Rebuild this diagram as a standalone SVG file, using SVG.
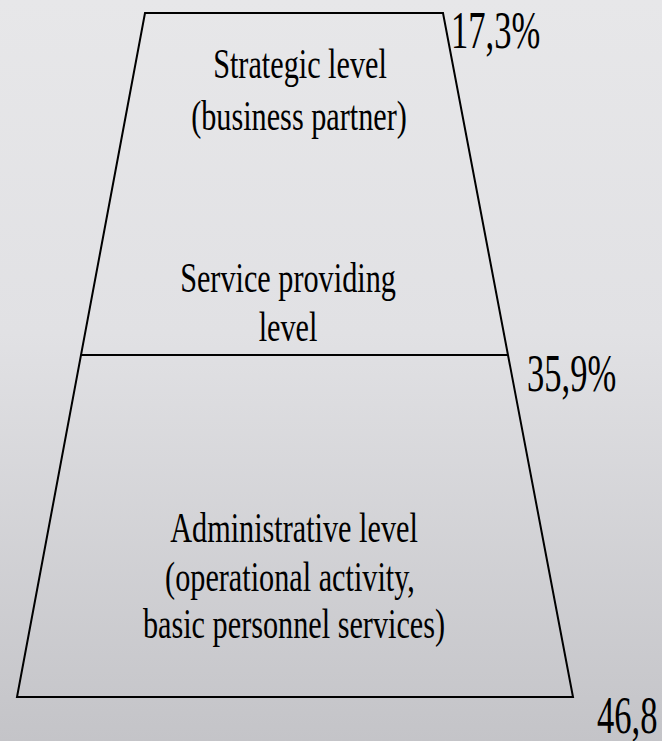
<svg xmlns="http://www.w3.org/2000/svg" width="662" height="741" viewBox="0 0 662 741">
  <defs>
    <linearGradient id="bg" x1="0" y1="0" x2="0" y2="1">
      <stop offset="0" stop-color="#e7e7e9"/>
      <stop offset="0.45" stop-color="#e1e1e4"/>
      <stop offset="1" stop-color="#c4c4c8"/>
    </linearGradient>
    <style>
      .edge { fill: none; stroke: #000; stroke-width: 2; stroke-linejoin: miter; }
      .lbl { font-family: "Liberation Serif", "Times New Roman", serif; font-size: 42px; fill: #000; text-anchor: middle; }
      .pct { font-family: "Liberation Serif", "Times New Roman", serif; font-size: 52px; fill: #000; }
    </style>
  </defs>

  <!-- backdrop -->
  <rect x="0" y="0" width="662" height="741" fill="url(#bg)"/>

  <!-- pyramid frustum outline and divider -->
  <g id="frustum">
    <polygon class="edge" points="145,13 443,13 573,697 17,697"/>
    <line class="edge" x1="81" y1="355" x2="508" y2="355"/>
  </g>

  <!-- upper tier: strategic level -->
  <g id="strategic-level">
    <text class="lbl" transform="translate(300,78) scale(0.72,1)">Strategic level</text>
    <text class="lbl" transform="translate(299,130) scale(0.72,1)">(business partner)</text>
  </g>

  <!-- upper tier: service providing level -->
  <g id="service-level">
    <text class="lbl" transform="translate(288,292) scale(0.72,1)">Service providing</text>
    <text class="lbl" transform="translate(288,341) scale(0.72,1)">level</text>
  </g>

  <!-- lower tier: administrative level -->
  <g id="administrative-level">
    <text class="lbl" transform="translate(294,542) scale(0.72,1)">Administrative level</text>
    <text class="lbl" transform="translate(290,591) scale(0.72,1)">(operational activity,</text>
    <text class="lbl" transform="translate(294,638) scale(0.72,1)">basic personnel services)</text>
  </g>

  <!-- share percentages -->
  <g id="shares">
    <text class="pct" transform="translate(451,48) scale(0.665,1)">17,3%</text>
    <text class="pct" transform="translate(527,391) scale(0.665,1)">35,9%</text>
    <text class="pct" transform="translate(597,733) scale(0.665,1)">46,8</text>
  </g>
</svg>
